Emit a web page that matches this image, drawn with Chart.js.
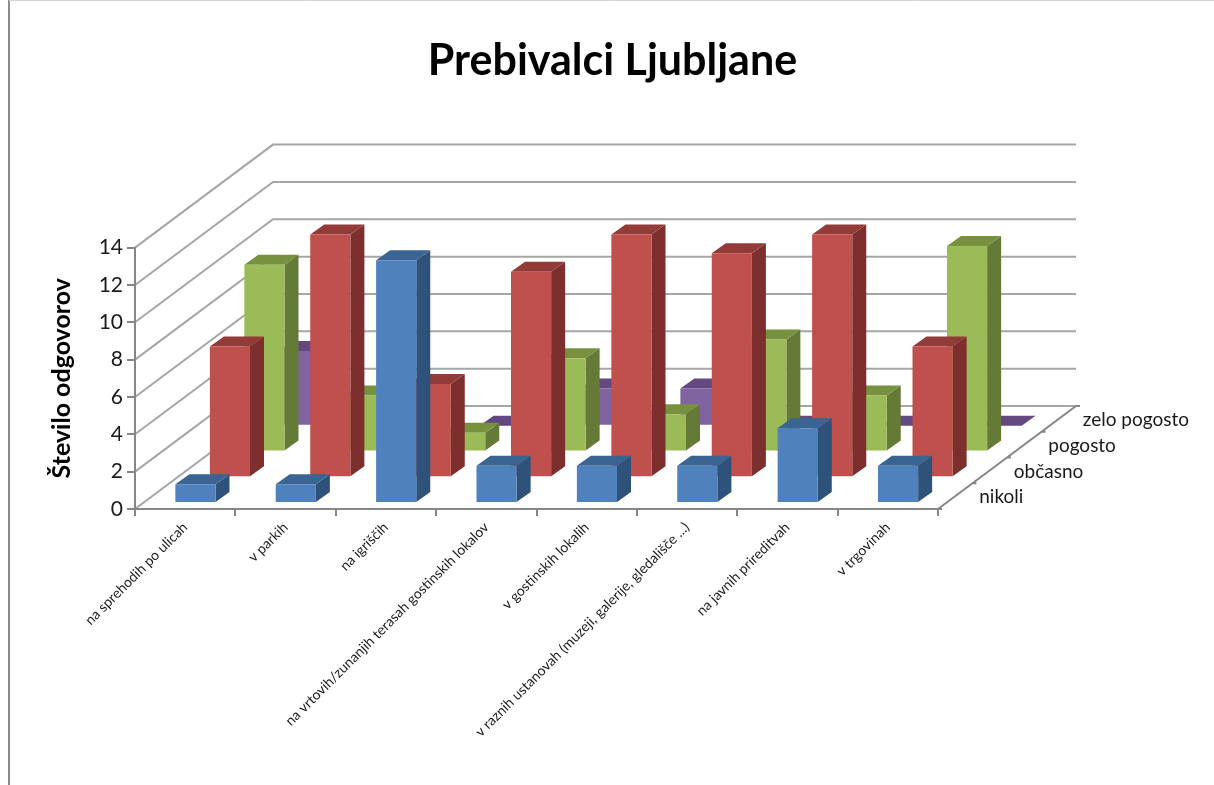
<!DOCTYPE html>
<html>
<head>
<meta charset="utf-8">
<style>
  html, body { margin: 0; padding: 0; background: #fff; overflow: hidden; }
  #wrap { width: 1214px; height: 785px; position: relative; }
</style>
<script src="https://cdn.jsdelivr.net/npm/chart.js@4/dist/chart.umd.min.js"></script>
</head>
<body>
<div id="wrap"><canvas id="myChart" width="1214" height="785"></canvas></div>
<script>
const categories = [
  'na sprehodih po ulicah',
  'v parkih',
  'na igriščih',
  'na vrtovih/zunanjih terasah gostinskih lokalov',
  'v gostinskih lokalih',
  'v raznih ustanovah (muzeji, galerije, gledališče ...)',
  'na javnih prireditvah',
  'v trgovinah'
];
const seriesNames = ['nikoli', 'občasno', 'pogosto', 'zelo pogosto'];
const nikoli = [1, 1, 13, 2, 2, 2, 4, 2];
const obcasno = [7, 13, 5, 11, 13, 12, 13, 7];
const pogosto = [10, 3, 1, 5, 2, 6, 3, 11];
const zeloPogosto = [4, 2, 0, 2, 2, 0, 0, 0];

// front, side, top colour of every series
const colors = [
  ['#4f81bd', '#2f527a', '#3a6491'],
  ['#c0504d', '#7c2f2d', '#933b39'],
  ['#9bbb59', '#667a37', '#77913f'],
  ['#8064a2', '#4f3b69', '#63497f']
];

const axisColor = '#868686';
const gridColor = '#a6a6a6';
// how far the back wall is from the front of the chart
const wallX = 138, wallY = 103;
const cellX = wallX / 4, cellY = wallY / 4;
// the bars themselves inside one depth cell
const barX = 14, barY = 10;

function poly(ctx, pts, color) {
  ctx.fillStyle = color;
  ctx.beginPath();
  pts.forEach((p, i) => i ? ctx.lineTo(p[0], p[1]) : ctx.moveTo(p[0], p[1]));
  ctx.closePath();
  ctx.fill();
}

const walls = {
  id: 'walls',
  beforeDraw(chart) {
    const ctx = chart.ctx, x = chart.scales.x, y = chart.scales.y;
    ctx.save();
    ctx.fillStyle = '#fff';
    ctx.fillRect(0, 0, chart.width, chart.height);
    // outer frame of the chart object
    ctx.strokeStyle = '#8c8c8c';
    ctx.lineWidth = 2;
    ctx.beginPath();
    ctx.moveTo(9, 785);
    ctx.lineTo(9, 0);
    ctx.stroke();
    ctx.strokeStyle = '#d4d4d4';
    ctx.lineWidth = 1;
    ctx.beginPath();
    ctx.moveTo(9, 0.5);
    ctx.lineTo(1214, 0.5);
    ctx.stroke();
    // side wall and back wall lines
    ctx.strokeStyle = gridColor;
    ctx.lineWidth = 2;
    y.ticks.forEach(t => {
      const py = y.getPixelForValue(t.value);
      ctx.beginPath();
      ctx.moveTo(x.left, py);
      ctx.lineTo(x.left + wallX, py - wallY);
      ctx.lineTo(x.right + wallX, py - wallY);
      ctx.stroke();
    });
    // floor edge on the right with its depth ticks and labels
    const by = y.getPixelForValue(0);
    ctx.strokeStyle = axisColor;
    ctx.beginPath();
    ctx.moveTo(x.right, by);
    ctx.lineTo(x.right + wallX, by - wallY);
    for (let i = 0; i <= 4; i++) {
      ctx.moveTo(x.right + i * cellX, by - i * cellY);
      ctx.lineTo(x.right + i * cellX + 4, by - i * cellY);
    }
    ctx.stroke();
    ctx.fillStyle = '#1a1a1a';
    ctx.font = '19px Lato';
    ctx.textAlign = 'left';
    ctx.textBaseline = 'middle';
    seriesNames.forEach((name, i) => {
      ctx.fillText(name, x.right + (i + 0.5) * cellX + 24, by - (i + 0.5) * cellY + 1);
    });
    ctx.restore();
  },
  beforeDatasetDraw(chart, args) {
    const ctx = chart.ctx, i = args.index;
    const dx = i * cellX + (cellX - barX) / 2;
    const dy = i * cellY + 6;
    ctx.save();
    ctx.translate(dx, -dy);
    // side and top of each bar, the front comes from Chart.js
    args.meta.data.forEach(bar => {
      const l = bar.x - bar.width / 2, r = bar.x + bar.width / 2;
      poly(ctx, [[r, bar.y], [r + barX, bar.y - barY], [r + barX, bar.base - barY], [r, bar.base]], colors[i][1]);
      poly(ctx, [[l, bar.y], [r, bar.y], [r + barX, bar.y - barY], [l + barX, bar.y - barY]], colors[i][2]);
    });
  },
  afterDatasetDraw(chart) {
    chart.ctx.restore();
  }
};

const seriesValues = [nikoli, obcasno, pogosto, zeloPogosto];

new Chart(document.getElementById('myChart'), {
  type: 'bar',
  data: {
    labels: categories,
    datasets: seriesValues.map((values, i) => ({
      label: seriesNames[i],
      data: values,
      backgroundColor: colors[i][0],
      borderWidth: 0,
      grouped: false,
      barPercentage: 0.4,
      categoryPercentage: 1,
      clip: false
    }))
  },
  plugins: [walls],
  options: {
    responsive: false,
    animation: false,
    layout: { padding: { left: 11, top: 35 } },
    plugins: {
      legend: { display: false },
      tooltip: { enabled: false },
      title: {
        display: true,
        text: 'Prebivalci Ljubljane',
        color: '#000',
        font: { family: 'Lato', size: 43, weight: 'bold' },
        padding: { top: 0, bottom: 161 }
      }
    },
    scales: {
      x: {
        afterFit(scale) { scale.height = 276; },
        border: { color: axisColor, width: 2 },
        grid: { display: true, drawOnChartArea: false, color: axisColor, lineWidth: 2, tickLength: 7, offset: true },
        ticks: {
          autoSkip: false,
          minRotation: 45,
          maxRotation: 45,
          padding: 3,
          color: '#1a1a1a',
          font: { family: 'Lato', size: 14 }
        }
      },
      y: {
        min: 0,
        max: 14,
        afterFit(scale) { scale.width = 124; },
        border: { color: axisColor, width: 2 },
        grid: { drawOnChartArea: false, color: axisColor, lineWidth: 2, tickLength: 8 },
        ticks: {
          stepSize: 2,
          padding: 4,
          color: '#1a1a1a',
          font: { family: 'Lato', size: 21 }
        },
        title: {
          display: true,
          text: 'Število odgovorov',
          color: '#000',
          padding: { top: 36, bottom: 0 },
          font: { family: 'Lato', size: 25, weight: 'bold' }
        }
      },
      // empty axis, only holds the room for the depth of the chart on the right
      room: {
        position: 'right',
        afterFit(scale) { scale.width = 276; },
        border: { display: false },
        grid: { display: false },
        ticks: { display: false }
      }
    }
  }
});
</script>
</body>
</html>
